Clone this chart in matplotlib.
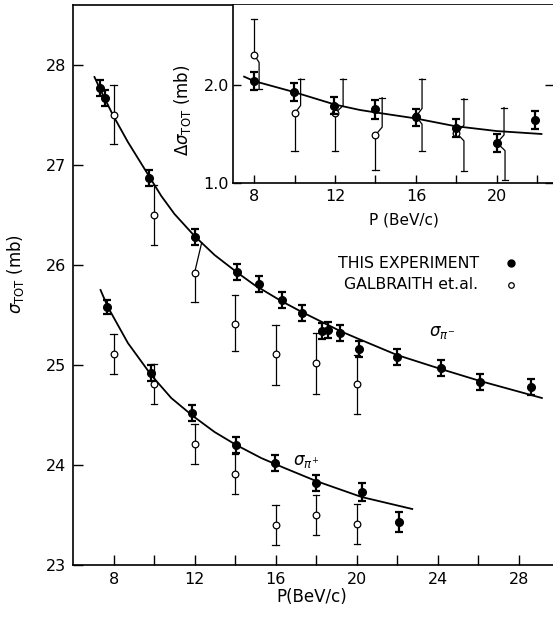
import numpy as np
import matplotlib
matplotlib.use("Agg")
import matplotlib.pyplot as plt

plt.rcParams['font.family'] = ['DejaVu Sans']
plt.rcParams['mathtext.fontset'] = 'dejavusans'

# ---- main panel: sigma_tot for pi- and pi+ ----
# this experiment (filled)
pim_x = [7.31, 7.56, 9.73, 12.0, 14.1, 15.2, 16.3, 17.3, 18.3, 18.6, 19.2, 20.1, 22.0, 24.15, 26.1, 28.6]
pim_y = [27.77, 27.67, 26.87, 26.28, 25.93, 25.81, 25.65, 25.52, 25.34, 25.35, 25.32, 25.16, 25.08, 24.97, 24.83, 24.78]
pim_err = [0.08] * len(pim_x)

pip_x = [7.7, 9.86, 11.9, 14.07, 15.95, 18.0, 20.25, 22.1]
pip_y = [25.58, 24.92, 24.52, 24.2, 24.02, 23.82, 23.73, 23.43]
pip_err = [0.07, 0.08, 0.08, 0.08, 0.08, 0.08, 0.085, 0.1]

# Galbraith et al. (open)
gpim_x = [8, 10, 12, 14, 16, 18, 20]
gpim_y = [27.5, 26.5, 25.92, 25.41, 25.11, 25.02, 24.81]
gpim_hi = [27.8, 26.8, 26.22, 25.7, 25.4, 25.32, 25.1]
gpim_lo = [27.21, 26.2, 25.63, 25.14, 24.8, 24.71, 24.51]
gpim_shift = [0, 0, 0.35, 0, 0, 0, 0]

gpip_x = [8, 10, 12, 14, 16, 18, 20]
gpip_y = [25.11, 24.81, 24.21, 23.91, 23.4, 23.5, 23.41]
gpip_err = [0.2, 0.2, 0.2, 0.2, 0.2, 0.2, 0.2]

# fitted curves
fit_m_x = [7.06, 7.31, 7.97, 8.71, 9.78, 10.36, 11.01, 12.0, 12.99, 14.14, 14.96, 16.28,
           17.3, 19.19, 20.11, 22.0, 24.16, 26.1, 29.15]
fit_m_y = [27.88, 27.77, 27.5, 27.23, 26.88, 26.69, 26.51, 26.29, 26.1, 25.92, 25.8, 25.64,
           25.53, 25.34, 25.26, 25.1, 24.96, 24.84, 24.67]
fit_p_x = [7.36, 7.72, 8.71, 9.86, 10.85, 11.92, 12.99, 14.06, 15.29, 16.44, 18.0, 20.25, 22.75]
fit_p_y = [25.75, 25.58, 25.22, 24.9, 24.67, 24.49, 24.33, 24.2, 24.07, 23.97, 23.84, 23.68, 23.56]

# ---- inset: delta sigma ----
d_x = [8, 9.97, 11.95, 14.0, 16.0, 18.0, 20.0, 21.9]
d_y = [2.04, 1.93, 1.79, 1.75, 1.67, 1.56, 1.41, 1.64]
d_err = [0.09, 0.09, 0.09, 0.1, 0.09, 0.09, 0.09, 0.09]

gd_x = [8, 10, 12, 14, 16, 18, 20]
gd_y = [2.31, 1.71, 1.71, 1.49, 1.68, 1.51, 1.41]
gd_hi = [2.67, 2.06, 2.06, 1.87, 2.06, 1.86, 1.77]
gd_lo = [1.96, 1.33, 1.33, 1.13, 1.33, 1.12, 1.03]
gd_up_shift = [0, 0.3, 0.4, 0.33, 0.3, 0.37, 0.35]
gd_lo_shift = [0.25, 0, 0, 0, 0.3, 0.37, 0.4]

fit_d_x = [7.51, 8.0, 9.94, 12.0, 13.23, 14.0, 15.95, 17.93, 19.99, 22.2]
fit_d_y = [2.085, 2.04, 1.93, 1.80, 1.745, 1.72, 1.66, 1.58, 1.53, 1.50]


def filled(ax, x, y, e, ms=5.5, lw=1.6):
    ax.errorbar(x, y, yerr=e, fmt='o', color='black', ms=ms, elinewidth=lw,
                capsize=2.6, capthick=lw, zorder=4)


def open_bar(ax, x, y, hi, lo, up_dx, lo_dx, bend, cap=True, ms=4.8):
    for yy, end, dx, sgn in [(y, hi, up_dx, 1), (y, lo, lo_dx, -1)]:
        knee = None
        if dx:
            knee = yy + sgn * bend
            if sgn * (end - knee) <= 0:
                knee = end
            ax.plot([x, x + dx, x + dx], [yy, knee, end], color='black', lw=0.9, zorder=2)
        else:
            ax.plot([x, x], [yy, end], color='black', lw=0.9, zorder=2)
        if cap and knee != end:
            ax.plot([x + dx - 0.15, x + dx + 0.15], [end, end], color='black', lw=0.9, zorder=2)
    ax.plot(x, y, 'o', mfc='white', mec='black', mew=0.9, ms=ms, zorder=3)


fig = plt.figure(figsize=(5.53, 6.17), dpi=100)
ax = fig.add_axes([73 / 553, 52 / 617, 480 / 553, 560 / 617])

ax.plot(fit_m_x, fit_m_y, color='black', lw=1.3, zorder=1)
ax.plot(fit_p_x, fit_p_y, color='black', lw=1.3, zorder=1)
filled(ax, pim_x, pim_y, pim_err)
filled(ax, pip_x, pip_y, pip_err)
for i in range(len(gpim_x)):
    open_bar(ax, gpim_x[i], gpim_y[i], gpim_hi[i], gpim_lo[i], gpim_shift[i], 0, 0.3)
for i in range(len(gpip_x)):
    open_bar(ax, gpip_x[i], gpip_y[i], gpip_y[i] + gpip_err[i], gpip_y[i] - gpip_err[i], 0, 0, 0)

ax.set_xlim(6, 29.7)
ax.set_ylim(23, 28.6)
ax.set_xticks([8, 12, 16, 20, 24, 28])
ax.set_xticks([10, 14, 18, 22, 26], minor=True)
ax.set_xticklabels(['8', '12', '16', '20', '24', '28'])
ax.set_yticks([23, 24, 25, 26, 27, 28])
ax.tick_params(axis='both', which='both', direction='in', length=7, width=1, labelsize=11.5)
ax.tick_params(axis='x', pad=5)
ax.tick_params(axis='y', pad=5)
ax.spines['right'].set_visible(False)
for s in ['left', 'bottom', 'top']:
    ax.spines[s].set_linewidth(1.2)

ax.set_xlabel('P(BeV/c)', fontsize=12)
ax.xaxis.set_label_coords(0.498, -0.041)
ax.set_ylabel(r'$\sigma_{\mathrm{TOT}}$ (mb)', fontsize=12)
ax.yaxis.set_label_coords(-0.097, 0.52)

ax.text(23.6, 25.33, r'$\sigma_{\pi^{-}}$', fontsize=12, va='center')
ax.text(16.85, 24.04, r'$\sigma_{\pi^{+}}$', fontsize=12, va='center')

ax.text(19.06, 26.02, 'THIS EXPERIMENT', fontsize=11.3, va='center')
ax.plot(27.65, 26.02, 'o', color='black', ms=5)
ax.text(19.4, 25.8, 'GALBRAITH et.al.', fontsize=11.3, va='center')
ax.plot(27.65, 25.8, 'o', mfc='white', mec='black', mew=0.9, ms=4)

# ---- inset ----
ins = fig.add_axes([233 / 553, 434 / 617, 320 / 553, 178 / 617])
ins.plot(fit_d_x, fit_d_y, color='black', lw=1.3, zorder=1)
for i in range(len(gd_x)):
    open_bar(ins, gd_x[i], gd_y[i], gd_hi[i], gd_lo[i], gd_up_shift[i], gd_lo_shift[i], 0.08)
filled(ins, d_x, d_y, d_err)

ins.set_xlim(6.96, 22.77)
ins.set_ylim(1.0, 2.816)
ins.set_xticks([8, 12, 16, 20])
ins.set_xticks([10, 14, 18, 22], minor=True)
ins.set_yticks([1.0, 2.0])
ins.set_yticklabels(['1.0', '2.0'])
ins.tick_params(axis='both', which='both', direction='in', length=6, width=1, labelsize=11.5)
ins.tick_params(axis='y', pad=3, right=True)
ins.tick_params(axis='x', pad=4)
ins.spines['top'].set_visible(False)
ins.spines['right'].set_visible(False)
for s in ['left', 'bottom']:
    ins.spines[s].set_linewidth(1.2)
ins.set_xlabel('P (BeV/c)', fontsize=11)
ins.xaxis.set_label_coords(0.534, -0.165)
ins.set_ylabel(r'$\Delta\sigma_{\mathrm{TOT}}$ (mb)', fontsize=12)
ins.yaxis.set_label_coords(-0.125, 0.41)

fig.savefig('out.png', dpi=100)
